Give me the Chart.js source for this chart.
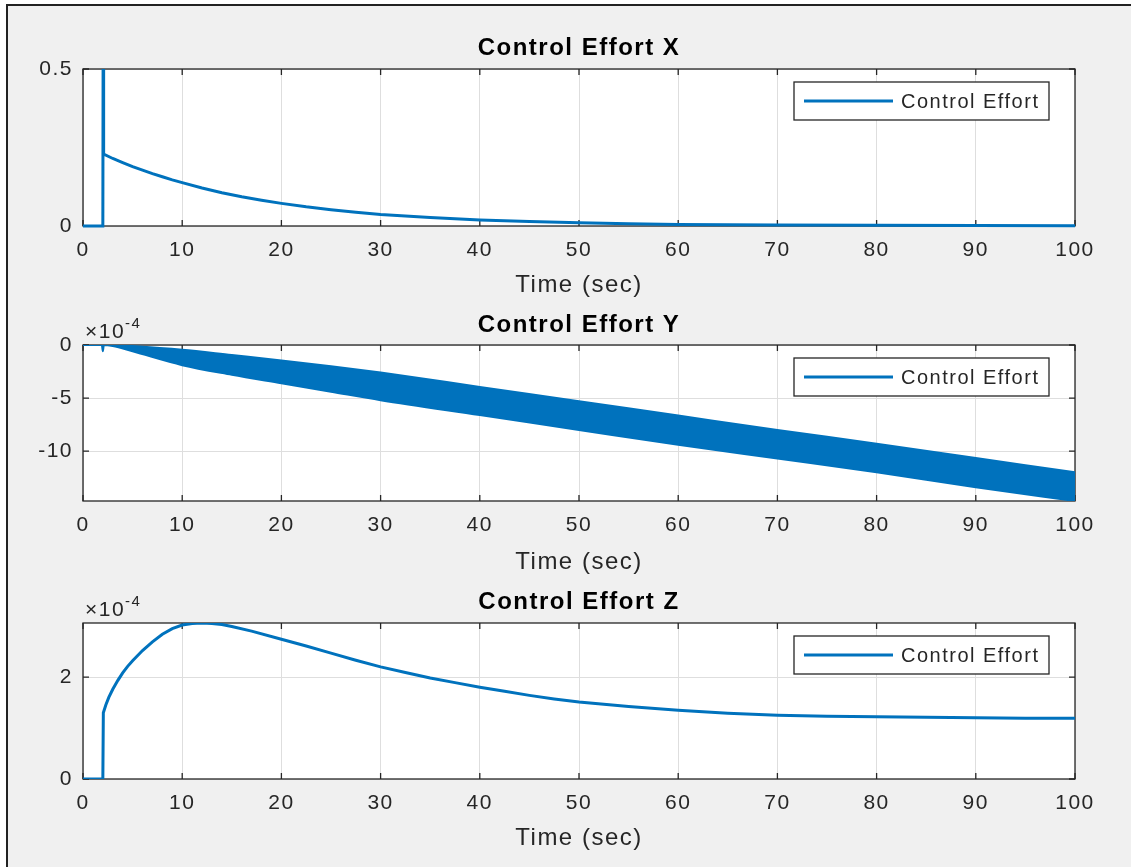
<!DOCTYPE html>
<html lang="en">
<head>
<meta charset="UTF-8">
<script src="https://cdn.jsdelivr.net/npm/chart.js"></script>
<title>Control Effort</title>
<style>
  body { margin: 0; background: #fff; width: 1131px; height: 867px; overflow: hidden; position: relative; }
  .frame { position: absolute; left: 6px; top: 4px; width: 1140px; height: 880px; background: #f0f0f0;
           border-top: 2px solid #222; border-left: 2px solid #222; }
  canvas { position: absolute; left: 0; }
</style>
</head>
<body>
<div class="frame"></div>
<canvas id="chartX" width="1131" height="300" style="top:0px"></canvas>
<canvas id="chartY" width="1131" height="277" style="top:300px"></canvas>
<canvas id="chartZ" width="1131" height="290" style="top:577px"></canvas>
<script>
  // valores
  var xTicks = [0, 10, 20, 30, 40, 50, 60, 70, 80, 90, 100]

  var timeX = [0, 2.0, 2.03, 2.08, 3, 4, 5, 6, 7, 8, 9, 10, 12, 14, 16, 18, 20, 22.5, 25, 27.5, 30, 32.5, 35, 37.5, 40, 45, 50, 55, 60, 65, 70, 80, 90, 100]
  var effortX = [0, 0, 0.6, 0.229, 0.215, 0.202, 0.189, 0.178, 0.167, 0.157, 0.147, 0.138, 0.121, 0.106, 0.093, 0.082, 0.072, 0.061, 0.052, 0.044, 0.037, 0.032, 0.027, 0.023, 0.019, 0.014, 0.010, 0.007, 0.005, 0.004, 0.003, 0.002, 0.0015, 0.001]
  var yTicksX = [0, 0.5]

  // Y em unidades de 1e-4 (faixa de oscilacao: borda superior e inferior)
  var timeY = [0, 1.9, 2.0, 2.1, 3, 5, 10, 15, 20, 25, 30, 40, 50, 60, 70, 80, 90, 100]
  var effortYUpper = [0, 0, 0, 0, 0, -0.1, -0.45, -0.95, -1.45, -2.0, -2.6, -3.95, -5.3, -6.65, -8.0, -9.3, -10.65, -12.0]
  var effortYLower = [0, 0, -0.6, 0, -0.1, -0.6, -1.9, -2.8, -3.6, -4.4, -5.2, -6.6, -8.0, -9.4, -10.7, -12.0, -13.4, -14.7]
  var yTicksY = [-10, -5, 0]

  // Z em unidades de 1e-4
  var timeZ = [0, 2.0, 2.05, 2.3, 2.6, 3, 3.5, 4, 4.5, 5, 6, 7, 8, 9, 10, 11, 12, 13, 14, 15, 17, 20, 22.5, 25, 27.5, 30, 32.5, 35, 37.5, 40, 42.5, 45, 47.5, 50, 55, 60, 65, 70, 75, 80, 85, 90, 95, 100]
  var effortZ = [0, 0, 1.3, 1.45, 1.6, 1.76, 1.93, 2.08, 2.21, 2.32, 2.52, 2.69, 2.84, 2.95, 3.02, 3.05, 3.06, 3.05, 3.03, 2.99, 2.9, 2.74, 2.61, 2.47, 2.33, 2.2, 2.09, 1.98, 1.89, 1.8, 1.72, 1.64, 1.57, 1.51, 1.42, 1.35, 1.29, 1.25, 1.23, 1.22, 1.21, 1.2, 1.19, 1.19]
  var yTicksZ = [0, 2]

  var azul = "#0072BD"
  var cinza = "#262626"
  var fonte = "'Liberation Sans', Arial, sans-serif"

  function pontos(xs, ys) {
    var lista = []
    for (var i = 0; i < xs.length; i++) {
      lista.push({ x: xs[i], y: ys[i] })
    }
    return lista
  }

  // fundo branco, caixa, ticks para dentro, legenda e expoente no estilo matlab
  var estiloMatlab = {
    id: "estiloMatlab",
    beforeDraw(chart) {
      var ctx = chart.ctx
      var a = chart.chartArea
      ctx.letterSpacing = "1.5px"
      ctx.save()
      ctx.fillStyle = "#fff"
      ctx.fillRect(a.left, a.top, a.right - a.left, a.bottom - a.top)
      ctx.restore()
    },
    beforeDatasetsDraw(chart) {
      var ctx = chart.ctx
      var a = chart.chartArea
      ctx.save()
      ctx.strokeStyle = cinza
      ctx.lineWidth = 1.3
      ctx.strokeRect(a.left, a.top, a.right - a.left, a.bottom - a.top)
      chart.scales.x.ticks.forEach(function (t) {
        var px = chart.scales.x.getPixelForValue(t.value)
        ctx.beginPath()
        ctx.moveTo(px, a.bottom); ctx.lineTo(px, a.bottom - 6)
        ctx.moveTo(px, a.top); ctx.lineTo(px, a.top + 6)
        ctx.stroke()
      })
      chart.scales.y.ticks.forEach(function (t) {
        var py = chart.scales.y.getPixelForValue(t.value)
        ctx.beginPath()
        ctx.moveTo(a.left, py); ctx.lineTo(a.left + 6, py)
        ctx.moveTo(a.right, py); ctx.lineTo(a.right - 6, py)
        ctx.stroke()
      })
      ctx.restore()
    },
    afterDraw(chart, args, opts) {
      var ctx = chart.ctx
      var a = chart.chartArea
      ctx.save()
      // legenda
      var w = 255, h = 38
      var bx = a.right - 26 - w, by = a.top + 13
      ctx.fillStyle = "#fff"
      ctx.fillRect(bx, by, w, h)
      ctx.strokeStyle = cinza
      ctx.lineWidth = 1.3
      ctx.strokeRect(bx, by, w, h)
      ctx.strokeStyle = azul
      ctx.lineWidth = 3
      ctx.beginPath()
      ctx.moveTo(bx + 10, by + h / 2)
      ctx.lineTo(bx + 99, by + h / 2)
      ctx.stroke()
      ctx.fillStyle = cinza
      ctx.font = "20px " + fonte
      ctx.textBaseline = "middle"
      ctx.fillText(chart.data.datasets[0].label, bx + 107, by + h / 2 + 1)
      // expoente
      if (opts.expoente) {
        ctx.textBaseline = "alphabetic"
        ctx.font = "21px " + fonte
        ctx.fillText("\u00d710", a.left + 2, a.top - 7)
        var larg = ctx.measureText("\u00d710").width
        ctx.font = "15px " + fonte
        ctx.fillText(opts.expoente, a.left + 2 + larg, a.top - 17)
      }
      ctx.restore()
    }
  }

  function criarGrafico(id, titulo, datasets, yMin, yMax, yTicks, expoente, layout) {
    var ctx = document.getElementById(id)
    return new Chart(ctx, {
      type: "line",
      data: { datasets: datasets },
      plugins: [estiloMatlab],
      options: {
        responsive: false,
        animation: false,
        parsing: false,
        layout: { padding: { left: 0, right: 56, top: 0, bottom: 0 } },
        elements: { point: { radius: 0 }, line: { tension: 0 } },
        plugins: {
          legend: { display: false },
          tooltip: { enabled: false },
          estiloMatlab: { expoente: expoente },
          title: {
            display: true,
            text: titulo,
            fullSize: false,
            color: "#000",
            font: { family: fonte, size: 24, weight: "bold" },
            padding: { top: layout.tituloTop, bottom: layout.tituloBottom }
          }
        },
        scales: {
          x: {
            type: "linear",
            min: 0,
            max: 100,
            afterBuildTicks: function (scale) { scale.ticks = xTicks.map(function (v) { return { value: v } }) },
            afterFit: function (scale) { scale.height = layout.alturaX },
            grid: { color: "#dedede", drawTicks: false },
            border: { display: false },
            ticks: { color: cinza, padding: 12, maxRotation: 0, autoSkip: false, font: { family: fonte, size: 21 },
                     callback: function (v) { return String(v) } },
            title: { display: true, text: "Time (sec)", color: cinza, font: { family: fonte, size: 24 },
                     padding: { top: 0, bottom: layout.rotuloBottom } }
          },
          y: {
            min: yMin,
            max: yMax,
            afterBuildTicks: function (scale) { scale.ticks = yTicks.map(function (v) { return { value: v } }) },
            afterFit: function (scale) { scale.width = 83 },
            grid: { color: "#dedede", drawTicks: false },
            border: { display: false },
            ticks: { color: cinza, padding: 10, autoSkip: false, font: { family: fonte, size: 21 },
                     callback: function (v) { return String(v) } }
          }
        }
      }
    })
  }

  criarGrafico("chartX", "Control Effort X", [{
    label: "Control Effort",
    data: pontos(timeX, effortX),
    borderColor: azul,
    borderWidth: 3,
    clip: { left: 2, right: 2, top: 0, bottom: 2 }
  }], 0, 0.5, yTicksX, null, { tituloTop: 33.6, tituloBottom: 6.6, alturaX: 74, rotuloBottom: 0 })

  criarGrafico("chartY", "Control Effort Y", [{
    label: "Control Effort",
    data: pontos(timeY, effortYUpper),
    borderColor: azul,
    backgroundColor: azul,
    borderWidth: 2,
    cubicInterpolationMode: "monotone",
    fill: "+1"
  }, {
    label: "",
    data: pontos(timeY, effortYLower),
    borderColor: azul,
    borderWidth: 2,
    cubicInterpolationMode: "monotone",
    fill: false
  }], -14.7, 0, yTicksY, "-4", { tituloTop: 10.6, tituloBottom: 5.6, alturaX: 76, rotuloBottom: 0 })

  criarGrafico("chartZ", "Control Effort Z", [{
    label: "Control Effort",
    data: pontos(timeZ, effortZ),
    borderColor: azul,
    borderWidth: 3
  }], 0, 3.06, yTicksZ, "-4", { tituloTop: 10.6, tituloBottom: 6.6, alturaX: 88, rotuloBottom: 14 })
</script>
</body>
</html>
